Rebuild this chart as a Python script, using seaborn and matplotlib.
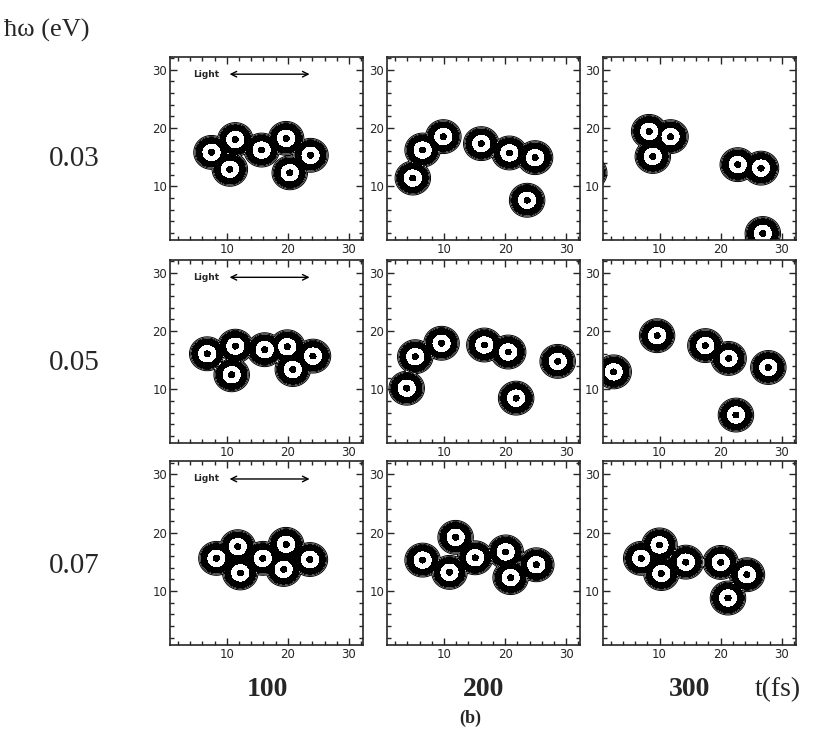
# -------------------------------------------
# импорт библиотек
import numpy as np
import matplotlib
matplotlib.use('Agg')
import matplotlib.pyplot as plt
import seaborn as sns

# -------------------------------------------
# данные: центры пятен (t, omega) для каждой панели
# строки - энергия фотона, столбцы - время
energies = ['0.03', '0.05', '0.07']
times = ['100', '200', '300']

centers_003_100 = [(7.5, 15.8), (11.4, 18.0), (10.5, 12.9), (15.7, 16.2),
                   (19.7, 18.2), (20.3, 12.3), (23.7, 15.3)]
centers_003_200 = [(4.9, 11.4), (6.5, 16.2), (9.9, 18.5), (16.1, 17.3),
                   (20.7, 15.7), (24.9, 14.9), (23.6, 7.6)]
centers_003_300 = [(8.3, 19.4), (11.8, 18.5), (8.9, 15.1), (22.8, 13.7),
                   (26.6, 13.1), (26.9, 1.9), (-1.5, 12.3)]
centers_005_100 = [(6.8, 16.1), (11.4, 17.4), (10.8, 12.5), (16.2, 16.8),
                   (19.9, 17.3), (20.8, 13.4), (24.1, 15.7)]
centers_005_200 = [(3.9, 10.2), (5.3, 15.6), (9.6, 17.9), (16.6, 17.6),
                   (20.5, 16.4), (28.6, 14.8), (21.8, 8.5)]
centers_005_300 = [(2.5, 13.0), (9.6, 19.2), (17.5, 17.5), (21.3, 15.3),
                   (27.8, 13.75), (22.5, 5.6)]
centers_007_100 = [(8.3, 15.6), (11.8, 17.6), (12.2, 13.1), (15.9, 15.6),
                   (19.7, 18.0), (19.3, 13.7), (23.6, 15.4)]
centers_007_200 = [(6.5, 15.3), (11.9, 19.2), (10.9, 13.2), (15.1, 15.7),
                   (20.1, 16.7), (20.9, 12.3), (25.1, 14.5)]
centers_007_300 = [(7.0, 15.6), (10.0, 17.9), (10.3, 13.0), (14.3, 14.95),
                   (20.0, 14.9), (24.3, 12.8), (21.2, 8.8)]

panels = [[centers_003_100, centers_003_200, centers_003_300],
          [centers_005_100, centers_005_200, centers_005_300],
          [centers_007_100, centers_007_200, centers_007_300]]

# -------------------------------------------
sns.set_style('ticks')
plt.rcParams['font.family'] = ['DejaVu Sans']

fig = plt.figure(figsize=(8.29, 7.36), dpi=100)

lefts = [0.205, 0.467, 0.727]
bottoms = [0.674, 0.398, 0.124]
w, h = 0.233, 0.249

# сетка для поля
g = np.linspace(-4, 36, 600)
X, Y = np.meshgrid(g, g)
s = 1.5

for i in range(3):
    for j in range(3):
        ax = fig.add_axes([lefts[j], bottoms[i], w, h])
        Z = np.zeros_like(X)
        for cx, cy in panels[i][j]:
            # максимум, чтобы пятна не искажали друг друга
            Z = np.maximum(Z, np.exp(-((X - cx) ** 2 + (Y - cy) ** 2) / (2 * s ** 2)))
        # кольца: черное, белое, черная точка
        ax.contourf(X, Y, Z, levels=[0.249, 0.647, 0.946, 10],
                    colors=['black', 'white', 'black'])
        ax.contour(X, Y, Z, levels=[0.154, 0.198, 0.249],
                   colors='black', linewidths=0.7)
        ax.set_xlim(0.7, 32.3)
        ax.set_ylim(0.8, 32.2)
        ax.set_xticks([10, 20, 30])
        ax.set_yticks([10, 20, 30])
        ax.set_xticks(np.arange(2, 33, 2), minor=True)
        ax.set_yticks(np.arange(2, 33, 2), minor=True)
        ax.tick_params(which='both', direction='in', top=True, right=True,
                       labelsize=8.5, width=1, pad=2)
        ax.tick_params(which='major', length=5)
        ax.tick_params(which='minor', length=3)
        for sp in ax.spines.values():
            sp.set_linewidth(1.2)
        if j == 0:
            ax.text(4.5, 29.2, 'Light', fontsize=6.5, fontweight='bold',
                    va='center')
            ax.annotate('', xy=(24, 29.2), xytext=(10, 29.2),
                        arrowprops=dict(arrowstyle='<->', lw=1, color='black'))

# подписи
serif = ['Liberation Serif', 'DejaVu Serif']
fig.text(0.005, 0.959, 'ħω (eV)', fontsize=19, family=serif, va='center')
energy_y = [0.784, 0.507, 0.231]
for i, e in enumerate(energies):
    fig.text(0.09, energy_y[i], e, fontsize=21, family=serif,
             ha='center', va='center')
time_x = [0.323, 0.583, 0.832]
for j, t in enumerate(times):
    fig.text(time_x[j], 0.0625, t, fontsize=20, family=serif,
             fontweight='bold', ha='center', va='center')
fig.text(0.938, 0.0625, 't(fs)', fontsize=20, family=serif, ha='center',
         va='center')
fig.text(0.567, 0.0245, '(b)', fontsize=13, family=serif, fontweight='bold',
         ha='center', va='center')

plt.savefig('out.png', dpi=100)
